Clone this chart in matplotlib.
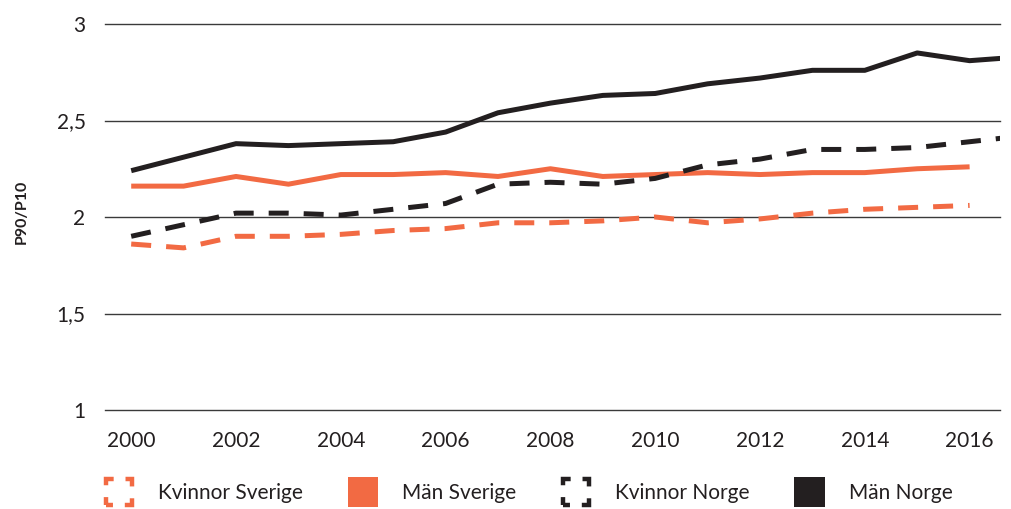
import matplotlib
matplotlib.use("Agg")
import matplotlib.pyplot as plt
from matplotlib.patches import Rectangle, Patch
from matplotlib.legend_handler import HandlerBase

years = list(range(2000, 2018))
kvinnor_sverige = [1.86, 1.84, 1.90, 1.90, 1.91, 1.93, 1.94, 1.97, 1.97, 1.98, 2.00, 1.97, 1.99, 2.02, 2.04, 2.05, 2.06]
man_sverige = [2.16, 2.16, 2.21, 2.17, 2.22, 2.22, 2.23, 2.21, 2.25, 2.21, 2.22, 2.23, 2.22, 2.23, 2.23, 2.25, 2.26]
kvinnor_norge = [1.90, 1.96, 2.02, 2.02, 2.01, 2.04, 2.07, 2.17, 2.18, 2.17, 2.20, 2.27, 2.30, 2.35, 2.35, 2.36, 2.39, 2.42]
man_norge = [2.24, 2.31, 2.38, 2.37, 2.38, 2.39, 2.44, 2.54, 2.59, 2.63, 2.64, 2.69, 2.72, 2.76, 2.76, 2.85, 2.81, 2.83]
labels = ["Kvinnor Sverige", "Män Sverige", "Kvinnor Norge", "Män Norge"]
yticks = [1, 1.5, 2, 2.5, 3]
ytick_labels = ["1", "1,5", "2", "2,5", "3"]
xticks = list(range(2000, 2017, 2))

ORANGE = "#F26A43"
BLACK = "#231F20"
FONT = "Lato"

fig = plt.figure(figsize=(10.11, 5.09), dpi=100)
ax = fig.add_axes([105/1011, 1-410/509, (1000-105)/1011, (410-24)/509])

lw = 3.6
dash = (0, (4.0, 3.0))
ax.plot(years[:len(kvinnor_sverige)], kvinnor_sverige, color=ORANGE, lw=lw, linestyle=dash, dash_capstyle="butt", zorder=3)
ax.plot(years[:len(man_sverige)], man_sverige, color=ORANGE, lw=lw, solid_capstyle="butt", zorder=3)
ax.plot(years[:len(kvinnor_norge)], kvinnor_norge, color=BLACK, lw=lw, linestyle=dash, dash_capstyle="butt", zorder=3)
ax.plot(years[:len(man_norge)], man_norge, color=BLACK, lw=lw, solid_capstyle="butt", zorder=3)

ax.set_xlim(1999.5, 2016.58)
ax.set_ylim(1, 3)
ax.set_yticks(yticks)
ax.set_yticklabels(ytick_labels)
ax.set_xticks(xticks)
ax.set_xticklabels([str(x) for x in xticks])
for s in ax.spines.values():
    s.set_visible(False)
ax.yaxis.grid(True, color="#3a3a3a", lw=1.0)
ax.set_axisbelow(True)
ax.tick_params(axis="both", length=0, labelsize=15, labelcolor=BLACK)
ax.tick_params(axis="y", pad=14)
ax.tick_params(axis="x", pad=15)
for t in ax.get_xticklabels() + ax.get_yticklabels():
    t.set_fontfamily(FONT)
for gl in ax.get_ygridlines():
    gl.set_clip_on(False)

ax.set_ylabel("P90/P10", fontsize=11.5, fontweight="bold", color=BLACK, fontfamily=FONT, labelpad=0)
ax.yaxis.set_label_coords(-76/895, (410-211.5)/386)


class SquareHandler(HandlerBase):
    def __init__(self, dashed):
        super().__init__()
        self.dashed = dashed

    def create_artists(self, legend, orig_handle, xdescent, ydescent, width, height, fontsize, trans):
        side = width
        x0 = -xdescent
        y0 = -ydescent + height / 2 - side / 2
        if self.dashed:
            lwp = 3.2
            s = side - lwp
            a = 0.27 * s
            on = 2 * a / lwp
            off = (s - 2 * a) / lwp
            p = Rectangle((x0 + lwp / 2, y0 + lwp / 2), s, s, facecolor="none",
                          edgecolor=orig_handle.get_edgecolor(), lw=lwp,
                          linestyle=(a / lwp, (on, off)), capstyle="butt", joinstyle="miter",
                          transform=trans)
        else:
            p = Rectangle((x0, y0), side, side, facecolor=orig_handle.get_facecolor(),
                          edgecolor="none", transform=trans)
        return [p]


h_ks = Patch(facecolor="none", edgecolor=ORANGE)
h_ms = Patch(facecolor=ORANGE, edgecolor="none")
h_kn = Patch(facecolor="none", edgecolor=BLACK)
h_mn = Patch(facecolor=BLACK, edgecolor="none")
handler_map = {h_ks: SquareHandler(True), h_kn: SquareHandler(True),
               h_ms: SquareHandler(False), h_mn: SquareHandler(False)}
leg = fig.legend([h_ks, h_ms, h_kn, h_mn], labels, handler_map=handler_map,
                 loc="center left", bbox_to_anchor=(104/1011, 1-493/509), ncol=4,
                 frameon=False, prop={"family": FONT, "size": 15},
                 handlelength=1.45, handleheight=1.0, handletextpad=1.15,
                 columnspacing=2.15, borderaxespad=0, borderpad=0)
for t in leg.get_texts():
    t.set_color(BLACK)

fig.savefig("out.png", dpi=100)
